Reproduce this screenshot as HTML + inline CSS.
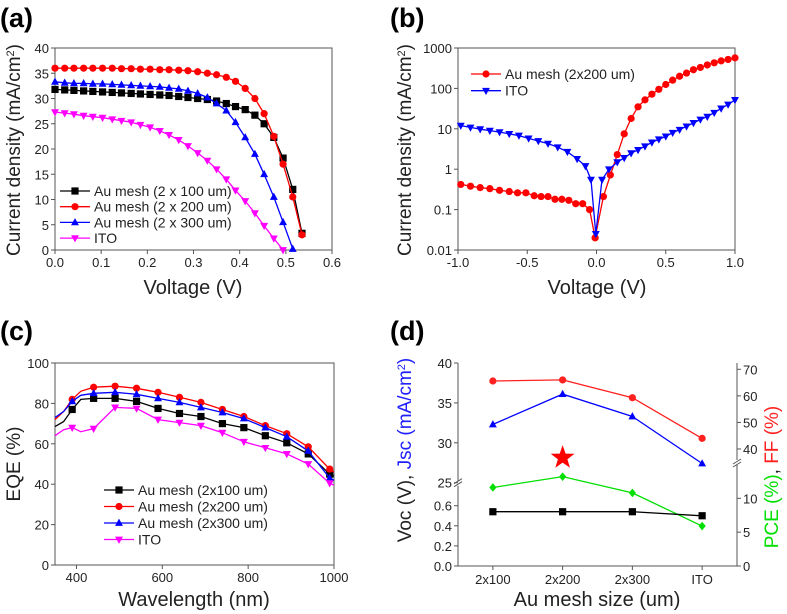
<!DOCTYPE html>
<html><head><meta charset="utf-8"><style>
html,body{margin:0;padding:0;background:#fff;}
svg{display:block;font-family:"Liberation Sans",Arial,sans-serif;}
</style></head><body>
<svg id="fig" width="787" height="614" viewBox="0 0 787 614" xmlns="http://www.w3.org/2000/svg"></svg>
<script>
// ---------- Panel (a) data ----------
const aVolt = [0.00,0.021,0.041,0.062,0.082,0.103,0.124,0.144,0.165,0.185,0.206,0.227,0.247,0.268,0.288,0.309,0.330,0.350,0.371,0.391,0.412,0.433,0.453,0.474,0.494,0.515,0.535];
const aMesh100 = [31.8,31.7,31.6,31.5,31.4,31.3,31.2,31.1,31.0,30.9,30.8,30.7,30.6,30.4,30.2,30.0,29.8,29.5,29.0,28.4,27.8,26.7,25.0,22.3,18.2,12.0,3.3];
const aMesh200 = [36.0,36.0,36.0,36.0,36.0,36.0,36.0,35.9,35.9,35.8,35.8,35.7,35.7,35.6,35.5,35.3,35.0,34.7,34.2,33.4,32.0,30.0,27.0,22.5,17.0,10.5,3.0];
const aMesh300 = [33.3,33.1,33.0,33.0,32.9,32.9,32.8,32.7,32.6,32.5,32.4,32.3,32.1,31.9,31.5,31.0,30.2,29.0,27.6,25.3,22.3,19.0,15.0,10.5,5.5,0.2];
const aITO = [27.3,27.1,26.9,26.6,26.4,26.2,25.9,25.6,25.3,24.8,24.3,23.6,22.8,21.8,20.6,19.2,17.7,16.0,14.0,11.8,9.7,7.3,4.8,2.3,0.0];
const aXTicks = [0,0.1,0.2,0.3,0.4,0.5,0.6];
const aYTicks = [0,5,10,15,20,25,30,35,40];
// ---------- Panel (b) data ----------
const bMeshX = [-0.98,-0.91,-0.84,-0.77,-0.70,-0.63,-0.57,-0.51,-0.45,-0.40,-0.35,-0.30,-0.25,-0.20,-0.15,-0.10,-0.05,-0.01,0.05,0.10,0.15,0.20,0.25,0.30,0.35,0.40,0.45,0.50,0.55,0.60,0.65,0.70,0.75,0.80,0.85,0.90,0.95,1.0];
const bMeshY = [0.42,0.38,0.35,0.33,0.30,0.28,0.26,0.26,0.22,0.21,0.21,0.18,0.18,0.17,0.14,0.14,0.10,0.02,0.21,0.72,2.3,7.5,18,35,52,72,95,125,160,200,240,290,330,380,430,480,520,570];
const bItoX = [-0.98,-0.91,-0.84,-0.77,-0.70,-0.63,-0.56,-0.49,-0.42,-0.35,-0.28,-0.21,-0.14,-0.08,-0.04,-0.005,0.04,0.09,0.15,0.20,0.25,0.30,0.35,0.40,0.45,0.50,0.55,0.60,0.65,0.70,0.75,0.80,0.85,0.90,0.95,1.0];
const bItoY = [12,10.8,9.8,9.0,8.3,7.5,6.8,5.8,5.0,4.3,3.5,2.7,1.8,1.2,0.55,0.025,0.55,1.0,1.5,1.9,2.5,3.0,3.7,4.6,5.5,6.5,8,9.5,11.5,14,17,20,25,32,40,52];
const bXTicks = [-1.0,-0.5,0.0,0.5,1.0];
const bXLabels = ["-1.0","-0.5","0.0","0.5","1.0"];
const bYTicks = [0.01,0.1,1,10,100,1000];
const bYLabels = ["0.01","0.1","1","10","100","1000"];
// ---------- Panel (c) data ----------
const cWave = [350,370,390,410,440,490,540,590,640,690,740,790,840,890,940,990,1000];
const cMesh100 = [68.5,71,77,82,82.5,82.5,81,77.5,75,73.5,70,68,64,60.5,55,45,44];
const cMesh200 = [72,76,82,86,88,88.5,87.5,85.5,83,80.5,77,73.5,69,65,58.5,47.5,46];
const cMesh300 = [73,76,81,84,85,85.5,84.5,82.5,80.5,78,75.5,72.5,68,63.5,56.5,43,42];
const cITO = [64,67,68,66,67.5,78,77.5,72,70.5,69,65.5,61,58,55,50,40.5,39.5];
const cXTicks = [400,600,800,1000];
const cYTicks = [0,20,40,60,80,100];
// ---------- Panel (d) data ----------
const dCats = ["2x100","2x200","2x300","ITO"];
const dVoc = [0.54,0.54,0.54,0.50];
const dJsc = [32.3,36.1,33.3,27.4];
const dFF = [65.6,66.0,59.3,44.0];
const dPCE = [11.6,13.2,10.8,5.9];
const dStarCat = 1;
const dLeftLow = [0.0,0.2,0.4,0.6];
const dLeftHigh = [25,30,35,40];
const dRightLow = [0,5,10];
const dRightHigh = [40,50,60,70];

const NS="http://www.w3.org/2000/svg";
const svg=document.getElementById('fig');
function el(tag,attrs,parent){const e=document.createElementNS(NS,tag);for(const k in attrs)e.setAttribute(k,attrs[k]);(parent||svg).appendChild(e);return e;}
function txt(s,x,y,size,anchor,parent,extra){const t=el('text',Object.assign({x:x,y:y,'font-size':size,'text-anchor':anchor||'middle',fill:'#000'},extra||{}),parent);t.textContent=s;return t;}
function lin(d0,d1,r0,r1){return v=>r0+(v-d0)/(d1-d0)*(r1-r0);}
function logs(d0,d1,r0,r1){return v=>r0+(Math.log10(v)-Math.log10(d0))/(Math.log10(d1)-Math.log10(d0))*(r1-r0);}
function marker(shape,x,y,col,g,s){s=s||3.6;let m;
 if(shape==='sq')m=el('rect',{x:x-s,y:y-s,width:2*s,height:2*s,fill:col},g);
 else if(shape==='ci')m=el('circle',{cx:x,cy:y,r:s,fill:col},g);
 else if(shape==='tu')m=el('polygon',{points:`${x},${y-s*1.2} ${x-s*1.1},${y+s*0.8} ${x+s*1.1},${y+s*0.8}`,fill:col},g);
 else if(shape==='td')m=el('polygon',{points:`${x},${y+s*1.2} ${x-s*1.1},${y-s*0.8} ${x+s*1.1},${y-s*0.8}`,fill:col},g);
 else if(shape==='di')m=el('polygon',{points:`${x},${y-s*1.2} ${x+s},${y} ${x},${y+s*1.2} ${x-s},${y}`,fill:col},g);
 return m;}
function frame(g,x0,y0,x1,y1){el('rect',{x:x0,y:y0,width:x1-x0,height:y1-y0,fill:'none',stroke:'#555','stroke-width':1},g);}
function series(g,name,xs,ys,sx,sy,col,shape,markIdx){
 const sg=el('g',{},g);
 
 
 const n=Math.min(xs.length,ys.length);let d='';
 for(let i=0;i<n;i++)d+=(i?'L':'M')+sx(xs[i]).toFixed(1)+','+sy(ys[i]).toFixed(1);
 el('path',{d:d,fill:'none',stroke:col,'stroke-width':1.3},sg);
 for(let i=0;i<n;i++){if(markIdx&&!markIdx(i))continue;marker(shape,sx(xs[i]),sy(ys[i]),col,sg);}
}
function legend(g,items,x,y,dy){
 items.forEach((it,i)=>{const lg=el('g',{},g);
  
  
  const yy=y+i*dy;el('line',{x1:x,y1:yy,x2:x+30,y2:yy,stroke:it[1],'stroke-width':1.3},lg);
  marker(it[2],x+15,yy,it[1],lg);txt(it[0],x+34,yy+5,14,'start',lg,{fill:'#222'});});
}
function panelLabel(s,x,y){const t=txt(s,x,y,27,'start',svg,{'font-weight':'bold'});}
function ytitle(g,x,y,parts,size){const t=el('text',{transform:`translate(${x},${y}) rotate(-90)`,'text-anchor':'middle','font-size':size||19},g);
 parts.forEach(p=>{const s=el('tspan',{fill:p[1]},t);if(p[2]){s.setAttribute('baseline-shift','super');s.setAttribute('font-size',11);}s.textContent=p[0];});
 return t;}
function xtitle(g,s,x,y){const t=txt(s,x,y,20,'middle',g,{fill:'#222'});}

// ===== Panel A =====
{const g=el('g',{});
 const X0=55,X1=332,Y0=48,Y1=250;const sx=lin(0,0.6,X0,X1),sy=lin(0,40,Y1,Y0);
 frame(g,X0,Y0,X1,Y1);
 aXTicks.forEach(v=>{el('line',{x1:sx(v),y1:Y1,x2:sx(v),y2:Y1+4,stroke:'#555'},g);txt(v.toFixed(1),sx(v),Y1+17,13,'middle',g,{fill:'#222'});});
 aYTicks.forEach(v=>{el('line',{x1:X0-4,y1:sy(v),x2:X0,y2:sy(v),stroke:'#555'},g);txt(String(v),X0-6,sy(v)+5,13,'end',g,{fill:'#222'});});
 series(g,'series-mesh-100',aVolt,aMesh100,sx,sy,'#000','sq');
 series(g,'series-mesh-200',aVolt,aMesh200,sx,sy,'#ff0000','ci');
 series(g,'series-mesh-300',aVolt,aMesh300,sx,sy,'#0000ff','tu');
 series(g,'series-ito',aVolt,aITO,sx,sy,'#ff00ff','td');
 legend(g,[['Au mesh (2 x 100 um)','#000','sq'],['Au mesh (2 x 200 um)','#ff0000','ci'],['Au mesh (2 x 300 um)','#0000ff','tu'],['ITO','#ff00ff','td']],60,191,15.7);
 ytitle(g,20,150,[['Current density (mA/cm','#222'],['2','#222',1],[')','#222']]);
 xtitle(g,'Voltage (V)',193,294);
}
panelLabel('(a)',0,27);
// ===== Panel B =====
{const g=el('g',{});
 const X0=458,X1=735,Y0=48,Y1=250;const sx=lin(-1,1,X0,X1),sy=logs(0.01,1000,Y1,Y0);
 frame(g,X0,Y0,X1,Y1);
 bXTicks.forEach((v,i)=>{el('line',{x1:sx(v),y1:Y1,x2:sx(v),y2:Y1+4,stroke:'#555'},g);txt(bXLabels[i],sx(v),Y1+17,13,'middle',g,{fill:'#222'});});
 bYTicks.forEach((v,i)=>{el('line',{x1:X0-4,y1:sy(v),x2:X0,y2:sy(v),stroke:'#555'},g);txt(bYLabels[i],X0-6,sy(v)+5,13,'end',g,{fill:'#222'});});
 series(g,'series-mesh-200',bMeshX,bMeshY,sx,sy,'#ff0000','ci');
 series(g,'series-ito',bItoX,bItoY,sx,sy,'#0000ff','td');
 legend(g,[['Au mesh (2x200 um)','#ff0000','ci'],['ITO','#0000ff','td']],471,74,16.7);
 ytitle(g,411,150,[['Current density (mA/cm','#222'],['2','#222',1],[')','#222']]);
 xtitle(g,'Voltage (V)',597,294);
}
panelLabel('(b)',390,27);
// ===== Panel C =====
{const g=el('g',{});
 const X0=55,X1=334,Y0=363,Y1=565;const sx=lin(350,1000,X0,X1),sy=lin(0,100,Y1,Y0);
 frame(g,X0,Y0,X1,Y1);
 cXTicks.forEach(v=>{el('line',{x1:sx(v),y1:Y1,x2:sx(v),y2:Y1+4,stroke:'#555'},g);txt(String(v),sx(v),Y1+17,13,'middle',g,{fill:'#222'});});
 cYTicks.forEach(v=>{el('line',{x1:X0-4,y1:sy(v),x2:X0,y2:sy(v),stroke:'#555'},g);txt(String(v),X0-6,sy(v)+5,13,'end',g,{fill:'#222'});});
 const mk=i=>cWave[i]%50===40;
 series(g,'series-mesh-100',cWave,cMesh100,sx,sy,'#000','sq',mk);
 series(g,'series-mesh-200',cWave,cMesh200,sx,sy,'#ff0000','ci',mk);
 series(g,'series-mesh-300',cWave,cMesh300,sx,sy,'#0000ff','tu',mk);
 series(g,'series-ito',cWave,cITO,sx,sy,'#ff00ff','td',mk);
 legend(g,[['Au mesh (2x100 um)','#000','sq'],['Au mesh (2x200 um)','#ff0000','ci'],['Au mesh (2x300 um)','#0000ff','tu'],['ITO','#ff00ff','td']],104,490,16.5);
 ytitle(g,20,464,[['EQE (%)','#222']]);
 xtitle(g,'Wavelength (nm)',194,606);
}
panelLabel('(c)',0,340);
// ===== Panel D =====
{const g=el('g',{});
 const X0=458,X1=737,Y0=363,Y1=566,BL=482.7,BR=463;
 const sx=i=>lin(0.5,4.5,X0,X1)(i+1);
 const sLL=lin(0,0.6,Y1,505.7), sLH=lin(25,40,BL,Y0), sRL=lin(0,10,Y1,498.3), sRH=lin(40,70,449,369.3);
 el('line',{x1:X0,y1:Y1,x2:X1,y2:Y1,stroke:'#555'},g);
 el('line',{x1:X0,y1:Y0,x2:X0,y2:BL-2,stroke:'#555'},g);el('line',{x1:X0,y1:BL+3,x2:X0,y2:Y1,stroke:'#555'},g);
 el('line',{x1:X1,y1:Y0,x2:X1,y2:BR-3,stroke:'#555'},g);el('line',{x1:X1,y1:BR+2,x2:X1,y2:Y1,stroke:'#555'},g);
 [[X0,BL],[X1,BR]].forEach(p=>{el('line',{x1:p[0]-4,y1:p[1]+1,x2:p[0]+4,y2:p[1]-4,stroke:'#555'},g);el('line',{x1:p[0]-4,y1:p[1]+4,x2:p[0]+4,y2:p[1]-1,stroke:'#555'},g);});
 dCats.forEach((c,i)=>{el('line',{x1:sx(i),y1:Y1,x2:sx(i),y2:Y1+4,stroke:'#555'},g);txt(c,sx(i),Y1+18,13,'middle',g,{fill:'#222'});});
 dLeftLow.forEach(v=>{el('line',{x1:X0-4,y1:sLL(v),x2:X0,y2:sLL(v),stroke:'#555'},g);txt(v.toFixed(1),X0-6,sLL(v)+5,13,'end',g,{fill:'#222'});});
 dLeftHigh.forEach(v=>{el('line',{x1:X0-4,y1:sLH(v),x2:X0,y2:sLH(v),stroke:'#555'},g);txt(String(v),X0-6,sLH(v)+5,13,'end',g,{fill:'#222'});});
 dRightLow.forEach(v=>{el('line',{x1:X1,y1:sRL(v),x2:X1+4,y2:sRL(v),stroke:'#555'},g);txt(String(v),X1+6,sRL(v)+5,13,'start',g,{fill:'#222'});});
 dRightHigh.forEach(v=>{el('line',{x1:X1,y1:sRH(v),x2:X1+4,y2:sRH(v),stroke:'#555'},g);txt(String(v),X1+6,sRH(v)+5,13,'start',g,{fill:'#222'});});
 const idx=[0,1,2,3];
 series(g,'series-ff',idx,dFF,sx,sRH,'#ff2020','ci');
 series(g,'series-jsc',idx,dJsc,sx,sLH,'#0000ff','tu');
 series(g,'series-pce',idx,dPCE,sx,sRL,'#00e000','di');
 series(g,'series-voc',idx,dVoc,sx,sLL,'#000','sq');
 const cx=sx(dStarCat),cy=sRL(dPCE[dStarCat])-19;let pts='';
 for(let k=0;k<10;k++){const r=k%2?5:12.5,a=-Math.PI/2+k*Math.PI/5;pts+=(cx+r*Math.cos(a)).toFixed(1)+','+(cy+r*Math.sin(a)).toFixed(1)+' ';}
 const st=el('polygon',{points:pts,fill:'#ff0000'},g);
 
 
 ytitle(g,411,450,[['Voc (V), ','#222'],['Jsc (mA/cm','#2020ff'],['2','#2020ff',1],[')','#2020ff']]);
 const rt=el('text',{transform:'translate(778,477) rotate(-90)','text-anchor':'middle','font-size':19},g);
 
 [['PCE (%)','#00e000'],[', ','#222'],['FF (%)','#ff2020']].forEach(p=>{const s=el('tspan',{fill:p[1]},rt);s.textContent=p[0];});
 xtitle(g,'Au mesh size (um)',597,606);
}
panelLabel('(d)',390,340);
</script>
</body></html>
